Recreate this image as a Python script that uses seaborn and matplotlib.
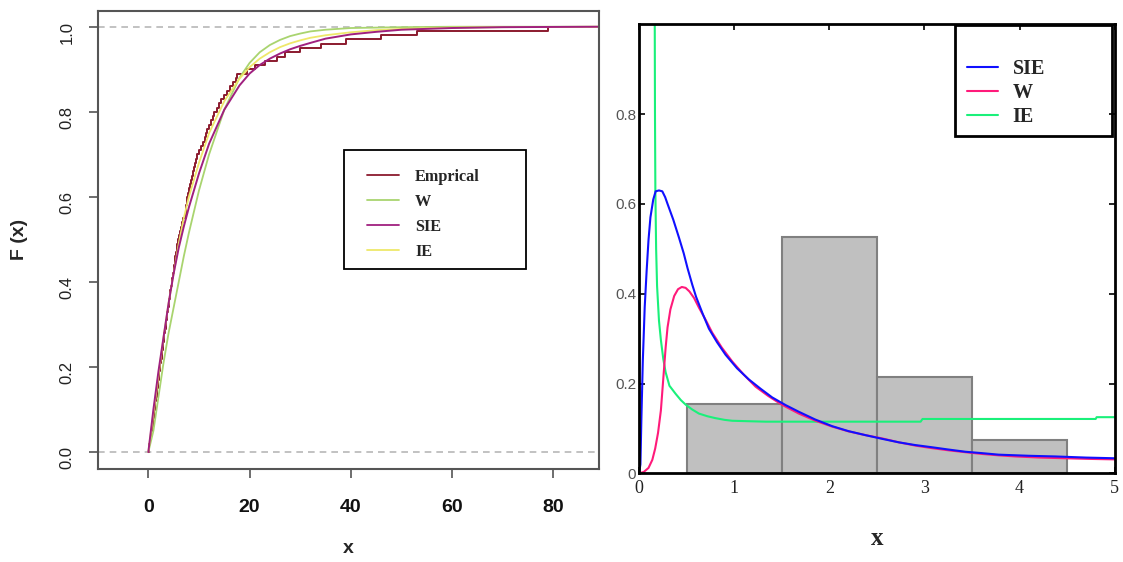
import matplotlib
matplotlib.use("Agg")
import matplotlib.pyplot as plt
from matplotlib.lines import Line2D
from matplotlib.patches import Rectangle
import seaborn as sns

# ---- left panel: empirical and fitted CDFs ----
emp_obs = [0.1, 0.2, 0.35, 0.5, 0.6, 0.75, 0.85, 0.95, 1.05, 1.2,
           1.3, 1.4, 1.5, 1.65, 1.75, 1.85, 2.0, 2.1, 2.2, 2.3,
           2.4, 2.5, 2.6, 2.75, 2.85, 2.95, 3.05, 3.15, 3.3, 3.4,
           3.5, 3.6, 3.75, 3.85, 4.0, 4.1, 4.2, 4.35, 4.5, 4.6,
           4.7, 4.85, 5.0, 5.1, 5.25, 5.35, 5.5, 5.6, 5.7, 5.8,
           6.0, 6.2, 6.4, 6.6, 6.8, 7.4, 7.5, 7.5, 7.6, 7.7,
           7.9, 8.1, 8.3, 8.5, 8.7, 8.9, 9.1, 9.3, 9.5, 9.7,
           10.0, 10.4, 10.8, 11.1, 11.3, 11.5, 11.9, 12.3, 12.7, 13.0,
           13.5, 14.0, 14.3, 15.0, 15.5, 16.1, 16.8, 17.3, 17.6, 19.5,
           21.0, 23.0, 25.5, 27.0, 30.0, 34.0, 39.0, 46.0, 53.0, 79.0]

cdf_x = [0, 1, 2, 3, 4, 5, 6, 7, 8, 10, 12, 15, 18, 20, 22, 24, 26, 28, 30,
         32, 35, 40, 45, 50, 60, 70, 89]
cdf_w = [0, 0.05, 0.13, 0.21, 0.28, 0.34, 0.40, 0.46, 0.515, 0.615, 0.70, 0.805,
         0.88, 0.915, 0.94, 0.957, 0.969, 0.978, 0.984, 0.989, 0.993, 0.997,
         0.998, 0.999, 1.0, 1.0, 1.0]
cdf_sie = [0, 0.10, 0.19, 0.27, 0.35, 0.42, 0.48, 0.53, 0.575, 0.655, 0.725, 0.805,
           0.862, 0.89, 0.91, 0.925, 0.937, 0.947, 0.955, 0.962, 0.972, 0.982,
           0.988, 0.993, 0.997, 0.999, 1.0]
cdf_ie = [0, 0.09, 0.18, 0.27, 0.35, 0.42, 0.49, 0.55, 0.60, 0.68, 0.75, 0.825,
          0.878, 0.905, 0.925, 0.94, 0.952, 0.961, 0.968, 0.974, 0.98, 0.987,
          0.992, 0.995, 0.998, 0.999, 1.0]

# ---- right panel: histogram and fitted densities ----
bin_edges = [0.5, 1.5, 2.5, 3.5, 4.5]
bin_mid = [1, 2, 3, 4]
bin_height = [0.155, 0.527, 0.215, 0.074]

sie_x = [0, 0.015, 0.025, 0.04, 0.06, 0.08, 0.10, 0.12, 0.15, 0.175, 0.21, 0.245,
         0.275, 0.30, 0.36, 0.42, 0.47, 0.51, 0.56, 0.60, 0.67, 0.735, 0.82, 0.91,
         1.03, 1.155, 1.28, 1.4, 1.54, 1.68, 1.85, 2.03, 2.2, 2.38, 2.55, 2.73,
         2.9, 3.08, 3.25, 3.43, 3.6, 3.78, 4.1, 4.38, 4.7, 5.0]
sie_y = [0, 0.02, 0.12, 0.25, 0.37, 0.45, 0.52, 0.57, 0.61, 0.628, 0.63, 0.628,
         0.615, 0.60, 0.565, 0.525, 0.49, 0.457, 0.42, 0.393, 0.355, 0.322, 0.292,
         0.264, 0.234, 0.209, 0.188, 0.169, 0.152, 0.137, 0.12, 0.105, 0.094,
         0.085, 0.077, 0.069, 0.063, 0.058, 0.053, 0.048, 0.045, 0.0415, 0.039,
         0.0375, 0.035, 0.0335]

w_x = [0, 0.05, 0.10, 0.14, 0.17, 0.20, 0.23, 0.255, 0.28, 0.30, 0.33, 0.37,
       0.41, 0.45, 0.49, 0.53, 0.58, 0.63, 0.70, 0.77, 0.87, 0.98, 1.1, 1.225,
       1.36, 1.5, 1.68, 1.855, 2.03, 2.2, 2.38, 2.56, 2.73, 2.91, 3.08, 3.26,
       3.43, 3.61, 3.78, 3.96, 4.22, 4.48, 4.75, 5.0]
w_y = [0, 0.003, 0.012, 0.03, 0.055, 0.09, 0.14, 0.21, 0.28, 0.325, 0.365, 0.395,
       0.41, 0.415, 0.413, 0.405, 0.39, 0.369, 0.342, 0.313, 0.28, 0.249, 0.22,
       0.193, 0.172, 0.153, 0.133, 0.117, 0.104, 0.0935, 0.085, 0.0775, 0.069,
       0.0615, 0.056, 0.051, 0.047, 0.043, 0.040, 0.0375, 0.035, 0.0335, 0.032,
       0.031]

ie_x = [0.165, 0.168, 0.172, 0.18, 0.19, 0.21, 0.23, 0.255, 0.28, 0.32, 0.385,
        0.44, 0.49, 0.56, 0.63, 0.72, 0.80, 0.90, 0.98, 1.15, 1.33, 2.03, 2.96,
        2.98, 4.80, 4.81, 5.0]
ie_y = [1.05, 0.8, 0.63, 0.50, 0.417, 0.34, 0.297, 0.255, 0.225, 0.195, 0.177,
        0.163, 0.153, 0.142, 0.133, 0.127, 0.123, 0.119, 0.117, 0.116, 0.115,
        0.115, 0.115, 0.121, 0.121, 0.125, 0.125]

sns.set_style("ticks")
plt.rcParams["font.family"] = ["Liberation Sans", "DejaVu Sans"]

c_emp, c_w, c_sie, c_ie = "#8b1a2e", "#a9d46f", "#a0207f", "#eee86a"
c_blue, c_pink, c_green = "#1010ff", "#ff1a7a", "#1af07a"
serif_bold = dict(family="Liberation Serif", weight="bold")

W, H = 1123, 562
fig = plt.figure(figsize=(11.23, 5.62), dpi=100)
ax1 = fig.add_axes([97.7 / W, 1 - 468.7 / H, (599 - 97.7) / W, (468.7 - 11) / H])
ax2 = fig.add_axes([639 / W, 1 - 473.3 / H, (1114.7 - 639) / W, (473.3 - 24.3) / H])

# left
for yv in (0, 1):
    ax1.axhline(yv, color="#b8b8b8", ls=(0, (4, 3)), lw=1.2, zorder=1)
sns.ecdfplot(x=emp_obs, ax=ax1, color=c_emp, lw=1.4)
sns.lineplot(x=cdf_x, y=cdf_w, ax=ax1, color=c_w, lw=1.3)
sns.lineplot(x=cdf_x, y=cdf_ie, ax=ax1, color=c_ie, lw=1.3)
sns.lineplot(x=cdf_x, y=cdf_sie, ax=ax1, color=c_sie, lw=1.4)

ax1.set_xlim(-10, 89)
ax1.set_ylim(-0.039, 1.037)
ax1.set_xticks([0, 20, 40, 60, 80])
ax1.set_yticks([0, 0.2, 0.4, 0.6, 0.8, 1.0])
ax1.set_yticklabels(["0.0", "0.2", "0.4", "0.6", "0.8", "1.0"])
ax1.tick_params(axis="x", length=6.5, width=1.2, color="#555555", pad=15,
                labelsize=14, labelcolor="#111111")
ax1.tick_params(axis="y", length=6.5, width=1.2, color="#555555", pad=10,
                labelsize=12, labelcolor="#222222", labelrotation=90)
for lbl in ax1.get_xticklabels():
    lbl.set_fontweight("bold")
for sp in ax1.spines.values():
    sp.set_visible(True)
    sp.set_color("#555555")
    sp.set_linewidth(1.5)
ax1.set_xlabel("x", fontsize=14, fontweight="bold")
ax1.set_ylabel("F (x)", fontsize=14, fontweight="bold")
ax1.xaxis.set_label_coords(0.5, -0.155)
ax1.yaxis.set_label_coords(-0.139, 0.5)

ax1.add_patch(Rectangle((0.491, 0.436), 0.854 - 0.491, 0.696 - 0.436,
                        transform=ax1.transAxes, fill=False, ec="black", lw=1.3,
                        zorder=5))
h1 = [Line2D([], [], color=c, lw=1.3) for c in (c_emp, c_w, c_sie, c_ie)]
ax1.legend(h1, ["Emprical", "W", "SIE", "IE"], loc="upper left",
           bbox_to_anchor=(0.537, 0.655), frameon=False, borderpad=0,
           borderaxespad=0, handlelength=2.0, handletextpad=0.97,
           labelspacing=0.55, prop=dict(size=11.7, **serif_bold))

# right
sns.histplot(x=bin_mid, weights=bin_height, bins=bin_edges, ax=ax2, stat="count",
             color="#c0c0c0", edgecolor="#808080", linewidth=1.5, alpha=1)
sns.lineplot(x=ie_x, y=ie_y, ax=ax2, color=c_green, lw=1.5, sort=False)
sns.lineplot(x=w_x, y=w_y, ax=ax2, color=c_pink, lw=1.5, sort=False)
sns.lineplot(x=sie_x, y=sie_y, ax=ax2, color=c_blue, lw=1.5, sort=False)

ax2.set_xlim(0, 5)
ax2.set_ylim(0, 1.0)
ax2.set_xticks([0, 1, 2, 3, 4, 5])
ax2.set_yticks([0, 0.2, 0.4, 0.6, 0.8])
ax2.set_yticklabels(["0", "0.2", "0.4", "0.6", "0.8"])
ax2.tick_params(direction="in", top=True, right=True, length=4, width=1.2,
                color="black")
ax2.tick_params(axis="x", pad=5, labelsize=13, labelcolor="#222222")
ax2.tick_params(axis="y", pad=2, labelsize=11, labelcolor="#555555")
for lbl in ax2.get_xticklabels():
    lbl.set_family("Liberation Serif")
for sp in ax2.spines.values():
    sp.set_visible(True)
    sp.set_color("black")
    sp.set_linewidth(2)
ax2.set_ylabel("")
ax2.set_xlabel("x", fontsize=18, **serif_bold)
ax2.xaxis.set_label_coords(0.5, -0.12)

ax2.add_patch(Rectangle((0.664, 0.751), 0.33, 0.247, transform=ax2.transAxes,
                        fill=False, ec="black", lw=2, zorder=5))
h2 = [Line2D([], [], color=c, lw=1.5) for c in (c_blue, c_pink, c_green)]
ax2.legend(h2, ["SIE", "W", "IE"], loc="upper left", bbox_to_anchor=(0.690, 0.922),
           frameon=False, borderpad=0, borderaxespad=0, handlelength=1.55,
           handletextpad=0.7, labelspacing=0.2, prop=dict(size=14.5, **serif_bold))

fig.savefig("out.png", dpi=100)
